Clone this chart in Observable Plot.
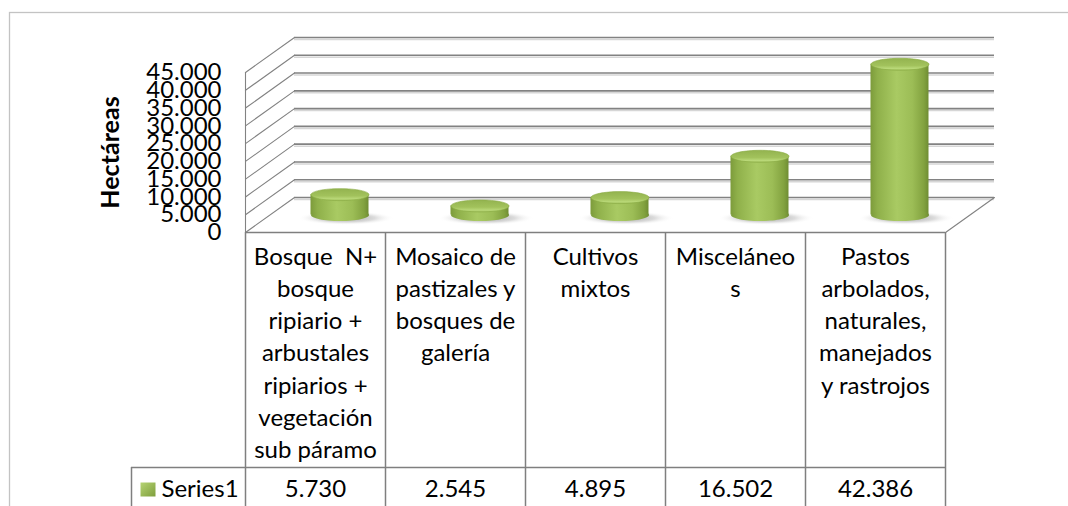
<!DOCTYPE html>
<html>
<head>
<meta charset="utf-8">
<script src="https://cdn.jsdelivr.net/npm/d3@7"></script>
<script src="https://cdn.jsdelivr.net/npm/@observablehq/plot@0.6"></script>
<style>
  html, body { margin: 0; padding: 0; background: #ffffff; }
  #chart svg { display: block; }
</style>
</head>
<body>
<div id="chart"></div>
<script>
// ---- data ----
const categories = [
  "Bosque  N+\nbosque\nripiario +\narbustales\nripiarios +\nvegetación\nsub páramo",
  "Mosaico de\npastizales y\nbosques de\ngalería",
  "Cultivos\nmixtos",
  "Misceláneo\ns",
  "Pastos\narbolados,\nnaturales,\nmanejados\ny rastrojos"
];
const values = [5730, 2545, 4895, 16502, 42386];
const yTicks = [0, 5000, 10000, 15000, 20000, 25000, 30000, 35000, 40000, 45000];
const seriesName = "Series1";
const axisTitle = "Hectáreas";

// ---- formatting / style ----
const esLocale = d3.formatLocale({decimal: ",", thousands: ".", grouping: [3], currency: ["", ""]});
const fmt = esLocale.format(",d");
const rows = categories.map((label, i) => ({i, label, value: values[i]}));

const FONT = "Lato, 'Open Sans', sans-serif";
const FS = 24;
const DX = 49, DY = -35;           // 3D depth offset (pixels)
const GRID = "#828282";
const TABLE = "#7f7f7f";
const depthLen = Math.hypot(DX, DY);
const depthAngle = Math.atan2(DX, -DY) * 180 / Math.PI;

function ellipseSymbol(rx, ry) {
  const k = 0.5523;
  return {draw(ctx) {
    ctx.moveTo(rx, 0);
    ctx.bezierCurveTo(rx, ry * k, rx * k, ry, 0, ry);
    ctx.bezierCurveTo(-rx * k, ry, -rx, ry * k, -rx, 0);
    ctx.bezierCurveTo(-rx, -ry * k, -rx * k, -ry, 0, -ry);
    ctx.bezierCurveTo(rx * k, -ry, rx, -ry * k, rx, 0);
    ctx.closePath();
  }};
}
function rectSymbol(w, h) {
  return {draw(ctx) {
    ctx.moveTo(-w / 2, -h / 2);
    ctx.lineTo(w / 2, -h / 2);
    ctx.lineTo(w / 2, h / 2);
    ctx.lineTo(-w / 2, h / 2);
    ctx.closePath();
  }};
}
const lineShape = {draw(ctx, l) { ctx.moveTo(0, 0); ctx.lineTo(0, -l); }};

function defsMark() {
  const defs = document.createElementNS("http://www.w3.org/2000/svg", "defs");
  defs.innerHTML = `
    <linearGradient id="cylSide" x1="0" x2="1" y1="0" y2="0">
      <stop offset="0" stop-color="#7c9b3b"/>
      <stop offset="0.12" stop-color="#8fb04a"/>
      <stop offset="0.45" stop-color="#a9ca63"/>
      <stop offset="0.72" stop-color="#9cbd56"/>
      <stop offset="0.92" stop-color="#82a23f"/>
      <stop offset="1" stop-color="#6f8d33"/>
    </linearGradient>
    <linearGradient id="cylTop" x1="0" x2="0" y1="0" y2="1">
      <stop offset="0" stop-color="#93b34f"/>
      <stop offset="0.6" stop-color="#a2c25c"/>
      <stop offset="0.85" stop-color="#b9d878"/>
      <stop offset="1" stop-color="#9fbf59"/>
    </linearGradient>
    <radialGradient id="cylShadow" cx="0.5" cy="0.5" r="0.5">
      <stop offset="0" stop-color="#7a7a7a" stop-opacity="0.75"/>
      <stop offset="0.6" stop-color="#9a9a9a" stop-opacity="0.35"/>
      <stop offset="1" stop-color="#ffffff" stop-opacity="0"/>
    </radialGradient>
    <linearGradient id="legendFill" x1="0" x2="1" y1="0" y2="1">
      <stop offset="0" stop-color="#b6d474"/>
      <stop offset="1" stop-color="#7e9e3c"/>
    </linearGradient>`;
  return defs;
}

const chart = Plot.plot({
  width: 1068,
  height: 506,
  marginLeft: 245,
  marginRight: 123,
  marginTop: 72,
  marginBottom: 274,
  style: {fontFamily: FONT, fontSize: `${FS}px`, color: "#000", background: "#fff", overflow: "hidden"},
  x: {type: "linear", domain: [0, categories.length], axis: null},
  y: {type: "linear", domain: [0, 45000], axis: null},
  marks: [
    defsMark,
    // outer chart area border
    Plot.frame({stroke: "#c3c3c3", strokeWidth: 1.3, insetLeft: -236, insetTop: -60, insetRight: -140, insetBottom: -300}),
    // back wall gridlines (shadow + line)
    Plot.ruleY(yTicks, {dx: DX, dy: DY + 2, stroke: "#d6d6d6", strokeWidth: 1.5}),
    Plot.ruleY(yTicks, {dx: DX, dy: DY, stroke: GRID, strokeWidth: 1.6}),
    // side wall depth lines
    Plot.vector(yTicks, {x: 0, y: d => d, length: depthLen, rotate: depthAngle, anchor: "start", shape: lineShape, stroke: GRID, strokeWidth: 1.1}),
    Plot.vector([0], {x: categories.length, y: d => d, length: depthLen, rotate: depthAngle, anchor: "start", shape: lineShape, stroke: GRID, strokeWidth: 1.1}),
    Plot.ruleX([0], {stroke: GRID, strokeWidth: 1.1}),
    // cylinder shadows
    Plot.dot(rows, {x: d => d.i + 0.5, y: 0, dx: DX / 2 + 6, dy: DY / 2 + 3, symbol: ellipseSymbol(48, 7), fill: "url(#cylShadow)", stroke: "none"}),
    // cylinder bodies
    Plot.rectY(rows, {x1: d => d.i, x2: d => d.i + 1, y1: 0, y2: d => d.value, insetLeft: 41, insetRight: 41, dx: DX / 2, dy: DY / 2, fill: "url(#cylSide)"}),
    Plot.dot(rows, {x: d => d.i + 0.5, y: 0, dx: DX / 2, dy: DY / 2, symbol: ellipseSymbol(29, 6), fill: "url(#cylSide)", stroke: "none"}),
    Plot.dot(rows, {x: d => d.i + 0.5, y: d => d.value, dx: DX / 2, dy: DY / 2, symbol: ellipseSymbol(29, 6), fill: "url(#cylTop)", stroke: "#8aab45", strokeWidth: 0.6}),
    // y axis labels and title
    Plot.axisY(yTicks, {anchor: "left", tickSize: 0, tickPadding: 24, tickFormat: fmt, fontSize: FS, fill: "#000"}),
    Plot.text([axisTitle], {frameAnchor: "left", textAnchor: "middle", lineAnchor: "middle", dx: -135, rotate: -90, fontWeight: "bold", fontSize: 25, fill: "#000"}),
    // data table grid
    Plot.ruleX(d3.range(categories.length + 1), {insetTop: 160, insetBottom: -300, stroke: TABLE, strokeWidth: 1.5}),
    Plot.ruleY([0], {stroke: TABLE, strokeWidth: 1.5}),
    Plot.ruleY([0], {dy: 235, insetLeft: -114, stroke: TABLE, strokeWidth: 1.5}),
    Plot.ruleX([0], {dx: -114, insetTop: 395, insetBottom: -300, stroke: TABLE, strokeWidth: 1.5}),
    // data table text
    Plot.text(rows, {x: d => d.i + 0.5, text: d => d.label, frameAnchor: "bottom", lineAnchor: "top", dy: 9.5, lineHeight: 1.342, fontSize: FS, fill: "#000"}),
    Plot.text(rows, {x: d => d.i + 0.5, text: d => fmt(d.value), frameAnchor: "bottom", lineAnchor: "middle", dy: 257, fontSize: FS, fill: "#000"}),
    Plot.text([seriesName], {x: 0, frameAnchor: "bottom", lineAnchor: "middle", dx: -84, dy: 257, textAnchor: "start", fontSize: FS, fill: "#000"}),
    Plot.dot([seriesName], {x: 0, frameAnchor: "bottom", dx: -97.5, dy: 257, symbol: rectSymbol(15, 14), fill: "url(#legendFill)", stroke: "none"})
  ]
});

document.getElementById("chart").append(chart);
</script>
</body>
</html>
